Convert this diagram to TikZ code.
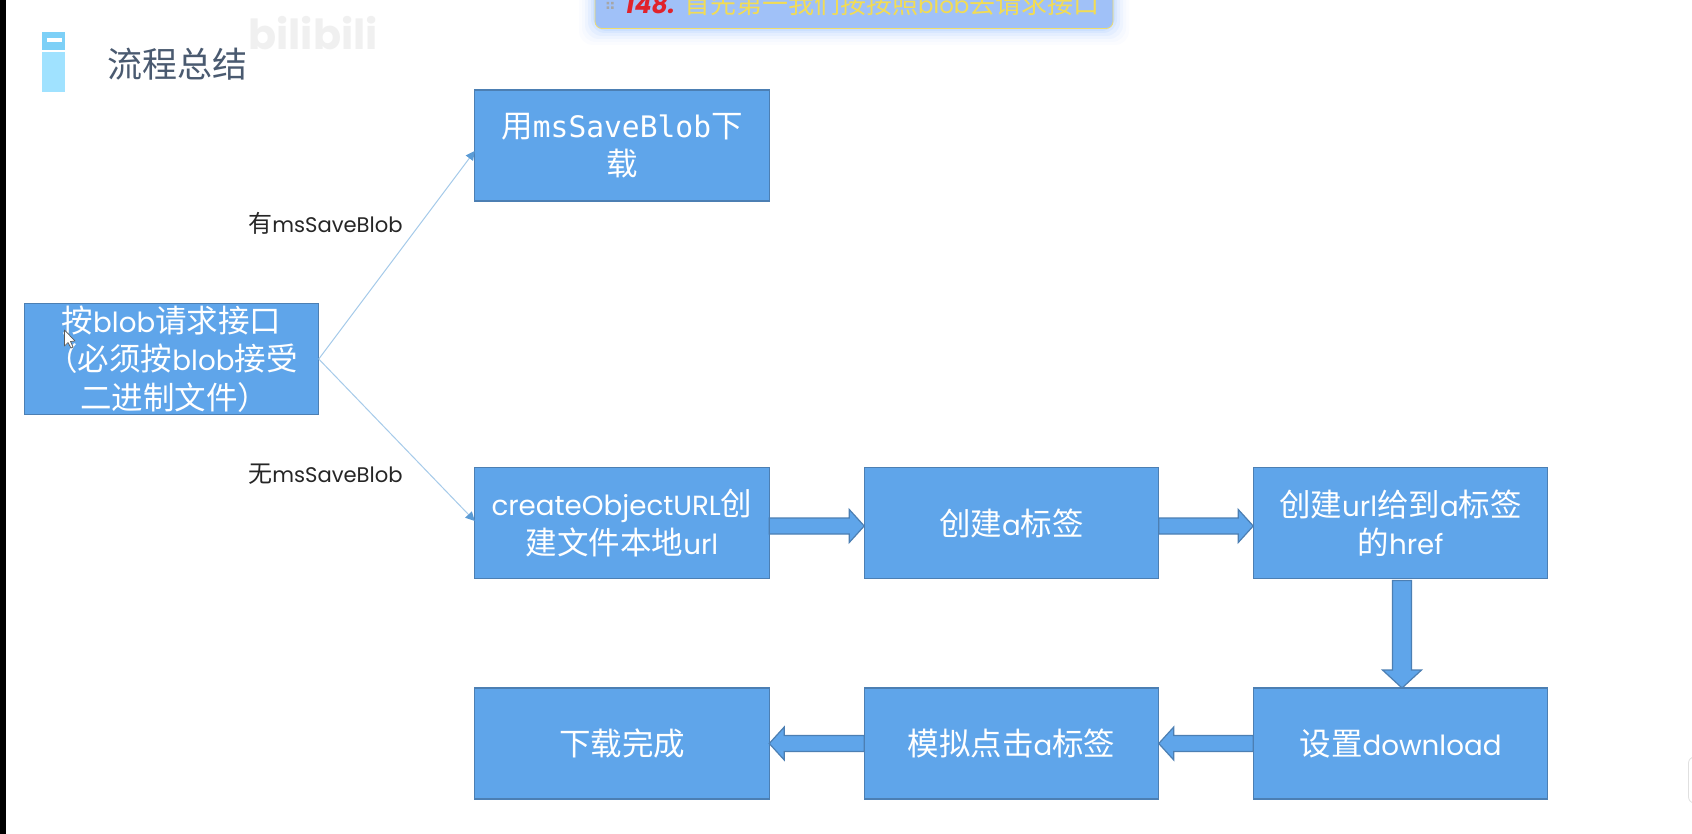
\documentclass[tikz,border=0pt]{standalone}
\usepackage{fontspec}
\setmainfont{Noto Sans CJK SC}
\newfontfamily\lat[Scale=0.88]{Poppins}
\newfontfamily\mon[Scale=0.94]{DejaVu Sans Mono}
\usetikzlibrary{calc,arrows.meta}
\definecolor{boxfill}{HTML}{5FA5EA}
\definecolor{boxline}{HTML}{4C7FB3}
\definecolor{thinline}{HTML}{A6CBEA}
\definecolor{tipblue}{HTML}{5B9BD5}
\definecolor{titlecol}{HTML}{4A5A70}
\definecolor{bannerfill}{HTML}{A0C1F8}
\definecolor{bannerline}{HTML}{EFDD70}
\definecolor{yellowtxt}{HTML}{F2DC55}
\definecolor{redtxt}{HTML}{E0232B}
\tikzset{
  flowbox/.style={draw=boxline,fill=boxfill,line width=1.4pt,minimum width=294.5pt,minimum height=111pt,
    inner sep=0pt,outer sep=0pt,text=white,align=center,font=\fontsize{31.5}{38.5}\selectfont},
  edgelabel/.style={text=black!85,inner sep=0pt,font=\fontsize{24}{28}\selectfont},
  thinarrow/.style={draw=thinline,line width=1pt,-{Triangle[length=9pt,width=9pt,color=tipblue,fill=tipblue]}},
  blockarrow/.style n args={3}{draw=boxline,fill=boxfill,line width=1.2pt,line join=miter,
    to path={
      ($(\tikztostart)!#1pt!90:(\tikztotarget)$)
      -- ($(\tikztotarget)!#3pt!(\tikztostart)!-#1pt!90:(\tikztostart)$)
      -- ($(\tikztotarget)!#3pt!(\tikztostart)!-#2pt!90:(\tikztostart)$)
      -- (\tikztotarget)
      -- ($(\tikztotarget)!#3pt!(\tikztostart)!#2pt!90:(\tikztostart)$)
      -- ($(\tikztotarget)!#3pt!(\tikztostart)!#1pt!90:(\tikztostart)$)
      -- ($(\tikztostart)!-#1pt!90:(\tikztotarget)$) -- cycle}},
}
\begin{document}
\begin{tikzpicture}[x=1pt,y=-1pt]
\path[use as bounding box,fill=white] (0,0) rectangle (1692,834);
\clip (0,0) rectangle (1692,834);
% left screen edge
\fill[black] (0,0) rectangle (5.5,834);
% right screen widget
\draw[black!12,fill=white,line width=0.8pt,rounded corners=6pt] (1688.5,757) rectangle (1700,803);
% watermark
\node[text=black!6,inner sep=0pt,font=\fontsize{47}{47}\bfseries\selectfont] (mark) at (313,33) {\lat bilibili};
% heading bar
\fill[fill={rgb,255:red,125;green,208;blue,247}] (42,32) rectangle (65,50);
\fill[fill={rgb,255:red,160;green,226;blue,255}] (42,52) rectangle (65,92);
\fill[white] (47,38.5) rectangle (62,42);
\node[text=titlecol,inner sep=0pt,font=\fontsize{35}{40}\selectfont] (title) at (177,64) {流程总结};
% banner
\foreach \g/\o in {16/0.015,13/0.02,10/0.03,7/0.04,4/0.05,2/0.06}{
  \fill[blue!55!cyan,opacity=\o,rounded corners=14pt] (595-\g,-20) rectangle (1113+\g,29+\g);
}
\draw[draw=bannerline,fill=bannerfill,line width=0.8pt,rounded corners=7pt] (595,-20) rectangle (1113,28.5);
\fill[black!35] (606.5,2) rectangle (609,4.5) (611,2) rectangle (613.5,4.5) (606.5,6.5) rectangle (609,9) (611,6.5) rectangle (613.5,9);
\node[anchor=west,inner sep=0pt,text=redtxt,font=\fontsize{28.5}{28}\selectfont] (bnum) at (625,4) {\lat\bfseries\itshape 148.};
\node[anchor=west,inner sep=0pt,text=yellowtxt,font=\fontsize{26}{26}\selectfont] (btext) at (684,4) {首先第一我们按按照{\lat blob}去请求接口};
% boxes
\node[flowbox] (req) at (171.5,359) {按{\lat blob}请求接口\\\hspace*{1pt}（必须按{\lat blob}接受\\\hspace*{6pt}二进制文件）};
\node[flowbox] (save) at (622,145.5) {用{\mon msSaveBlob}下\\载};
\node[flowbox] (url) at (622,523) {{\lat createObjectURL}创\\建文件本地{\lat url}};
\node[flowbox] (tag) at (1011.5,523) {创建{\lat a}标签};
\node[flowbox] (href) at (1400.5,523) {创建{\lat url}给到{\lat a}标签\\的{\lat href}};
\node[flowbox] (dl) at (1400.5,743.5) {设置{\lat download}};
\node[flowbox] (click) at (1011.5,743.5) {模拟点击{\lat a}标签};
\node[flowbox] (done) at (622,743.5) {下载完成};
% thin connectors
\draw[thinarrow] (req.east) -- ([yshift=-5.5pt]save.west);
\draw[thinarrow] (req.east) -- ([yshift=2pt]url.west);
% labels
\node[edgelabel] (yes) at (325.5,223.5) {有{\lat msSaveBlob}};
\node[edgelabel] (no) at (325.5,474) {无{\lat msSaveBlob}};
% block connectors
\draw[blockarrow={8}{16.5}{15}] ([yshift=-3pt]url.east) to ([yshift=-3pt]tag.west);
\draw[blockarrow={8}{16.5}{15}] ([yshift=-3pt]tag.east) to ([yshift=-3pt]href.west);
\draw[blockarrow={9.5}{19.5}{18}] ([xshift=1.5pt,yshift=-2pt]href.south) to ([xshift=1.5pt]dl.north);
\draw[blockarrow={8}{16.5}{15}] (dl.west) to (click.east);
\draw[blockarrow={8}{16.5}{15}] (click.west) to (done.east);
% mouse cursor
\draw[fill=white,draw=black!65,line width=0.7pt,line join=round] (64.5,330) -- (64.5,346) -- (68,342.5) -- (71,348) -- (73,347) -- (70.5,341.5) -- (75,341) -- cycle;
\end{tikzpicture}
\end{document}
